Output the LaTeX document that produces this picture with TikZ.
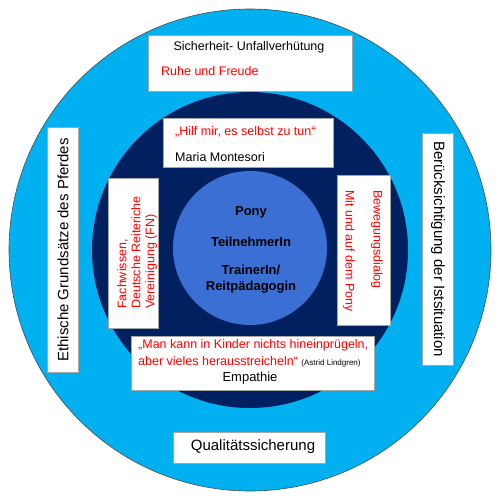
\documentclass[tikz,border=0pt]{standalone}
\usepackage{fontspec}
\setmainfont{Liberation Sans}
\definecolor{outerblue}{RGB}{0,176,240}
\definecolor{navy}{RGB}{0,32,96}
\definecolor{innerblue}{RGB}{59,111,212}
\definecolor{txtred}{RGB}{255,0,0}
\tikzset{
  wbox/.style={fill=white,draw=gray!70,line width=0.5pt},
  txt/.style={inner sep=0pt,font=\fontsize{12.5}{14}\selectfont},
  rtxt/.style={txt,text=txtred},
  big/.style={inner sep=0pt,font=\fontsize{15}{17}\selectfont},
  ctr/.style={inner sep=0pt,font=\bfseries\fontsize{13}{15}\selectfont}
}
\begin{document}
\begin{tikzpicture}[x=1pt,y=-1pt]
\useasboundingbox (0,0) rectangle (500,500);
\fill[white] (0,0) rectangle (500,500);
% circles
\draw[fill=outerblue,draw=gray!60!black,line width=0.6pt] (250,250) circle[radius=241];
\fill[navy] (250,250) circle[radius=158];
\fill[innerblue] (250,248) circle[radius=77];
% boxes
\draw[wbox] (148,35) rectangle (352,91);
\draw[wbox] (47,127) rectangle (78,372);
\draw[wbox] (422,133) rectangle (453,365);
\draw[wbox] (108,178) rectangle (158,328);
\draw[wbox] (337,175) rectangle (390,325);
\draw[wbox] (163,118) rectangle (333,167);
\draw[wbox] (131,336) rectangle (374,390);
\draw[wbox] (173,432) rectangle (325,463);
% top box
\node[txt] (sich) at (249,47) {Sicherheit- Unfallverhütung};
\node[rtxt,anchor=west] (ruhe) at (161,71) {Ruhe und Freude};
% side boxes
\node[big,rotate=90] (ethik) at (63,250) {Ethische Grundsätze des Pferdes};
\node[big,rotate=-90] (ist) at (438,249) {Berücksichtigung der Istsituation};
% Hilf mir
\node[rtxt,anchor=west] (hilf) at (175,132) {„Hilf mir, es selbst zu tun“};
\node[txt,anchor=west] (monte) at (175,157) {Maria Montesori};
% Fachwissen
\node[rtxt,rotate=90,anchor=north west,align=left,font=\fontsize{12.5}{14}\selectfont] (fach) at (117,309) {Fachwissen,\\Deutsche Reiteriche\\Vereinigung (FN)};
% Bewegung
\node[rtxt,rotate=-90,anchor=base west] (beweg) at (373.5,190) {Bewegungsdialog};
\node[rtxt,rotate=-90,anchor=base west] (mit) at (345.5,190) {Mit und auf dem Pony};
% Man kann
\node[rtxt,anchor=west] (man1) at (138,345) {„Man kann in Kinder nichts hineinprügeln,};
\node[rtxt,anchor=west] (man2) at (138,362) {aber vieles herausstreicheln“ {\fontsize{8}{9}\selectfont\color{black}(Astrid Lindgren)}};
\node[inner sep=0pt,font=\fontsize{13}{15}\selectfont] (emp) at (250,378) {Empathie};
% center
\node[ctr] (pony) at (251,212) {Pony};
\node[ctr] (teil) at (251,242) {TeilnehmerIn};
\node[ctr] (train) at (251,270) {TrainerIn/};
\node[ctr] (reit) at (251,287) {Reitpädagogin};
% bottom
\node[big] (qual) at (253,447) {Qualitätssicherung};
\end{tikzpicture}
\end{document}
